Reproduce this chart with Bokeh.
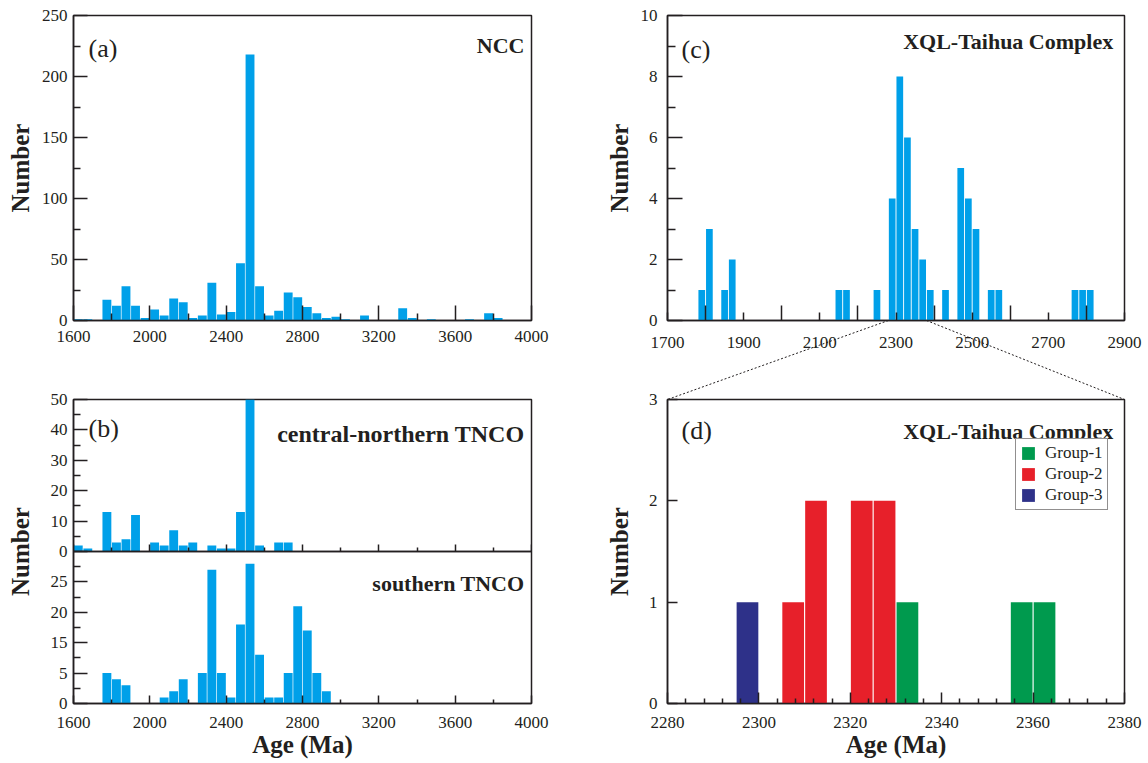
from bokeh.plotting import figure
from bokeh.models import Range1d, LinearAxis, FixedTicker, Label, Legend, LegendItem
from bokeh.layouts import row, column
from bokeh.embed import file_html
from bokeh.resources import INLINE

# ---------------- data ----------------
# (a) NCC, 50 Ma bins (left edge of bin) and counts
NCC_BIN = 50
ncc_age = [1600, 1650, 1750, 1800, 1850, 1900, 1950, 2000, 2050, 2100, 2150, 2200,
           2250, 2300, 2350, 2400, 2450, 2500, 2550, 2600, 2650, 2700, 2750, 2800,
           2850, 2900, 2950, 3000, 3100, 3300, 3350, 3450, 3650, 3750, 3800]
ncc_count = [1, 1, 17, 12, 28, 12, 2, 9, 4, 18, 15, 2,
             4, 31, 5, 7, 47, 218, 28, 4, 8, 23, 19, 11,
             6, 2, 3, 1, 4, 10, 2, 1, 1, 6, 2]

# (b) central-northern TNCO, 50 Ma bins
cn_age = [1600, 1650, 1750, 1800, 1850, 1900, 2000, 2050, 2100, 2150, 2200,
          2300, 2350, 2400, 2450, 2500, 2550, 2650, 2700]
cn_count = [2, 1, 13, 3, 4, 12, 3, 2, 7, 2, 3, 2, 1, 1, 13, 150, 2, 3, 3]
cn_ticks = [0, 10, 20, 30, 40, 50]

# (b) southern TNCO, 50 Ma bins (heights on the printed axis scale)
s_age = [1750, 1800, 1850, 2050, 2100, 2150, 2250, 2300, 2350, 2400, 2450,
         2500, 2550, 2600, 2650, 2700, 2750, 2800, 2850, 2900]
s_count = [5, 4, 3, 1, 2, 4, 5, 22, 5, 1, 13, 23, 8, 1, 1, 5, 16, 12, 5, 2]
s_tick_pos = [0, 5, 10, 15, 20]
s_tick_labels = ["0", "5", "15", "20", "25"]

# (c) XQL-Taihua Complex, 20 Ma bins
XQL_BIN = 20
xql_age = [1780, 1800, 1840, 1860, 2140, 2160, 2240, 2280, 2300, 2320, 2340,
           2360, 2380, 2420, 2460, 2480, 2500, 2540, 2560, 2760, 2780, 2800]
xql_count = [1, 3, 1, 2, 1, 1, 1, 4, 8, 6, 3, 2, 1, 1, 5, 4, 3, 1, 1, 1, 1, 1]

# (d) XQL-Taihua Complex detail, 5 Ma bins
D_BIN = 5
d_age = [2295, 2305, 2310, 2320, 2325, 2330, 2355, 2360]
d_count = [1, 1, 2, 2, 2, 1, 1, 1]
d_group = ["Group-3", "Group-2", "Group-2", "Group-2", "Group-2",
           "Group-1", "Group-1", "Group-1"]
groups = ["Group-1", "Group-2", "Group-3"]
group_colors = ["#009A4E", "#E7202A", "#2E3189"]

# ---------------- styling ----------------
SERIF = "Liberation Serif"
INK = "#231F20"
BLUE = "#00A0E9"


def base_fig(width, height, xr, yr, left, right, top, bottom):
    p = figure(width=width, height=height, x_range=Range1d(*xr), y_range=Range1d(*yr),
               output_backend="svg", toolbar_location=None,
               min_border_left=left, min_border_right=right,
               min_border_top=top, min_border_bottom=bottom)
    p.xgrid.visible = False
    p.ygrid.visible = False
    p.outline_line_color = INK
    p.outline_line_width = 1.5
    return p


def style_axis(ax, ticks, minor, tick_in, minor_in, standoff):
    ax.ticker = FixedTicker(ticks=list(ticks), minor_ticks=list(minor))
    ax.major_tick_in = tick_in
    ax.major_tick_out = 0
    ax.minor_tick_in = minor_in
    ax.minor_tick_out = 0
    ax.major_tick_line_color = INK
    ax.minor_tick_line_color = INK
    ax.major_tick_line_width = 1.5
    ax.minor_tick_line_width = 1.5
    ax.axis_line_color = INK
    ax.axis_line_width = 1.5
    ax.major_label_text_font = SERIF
    ax.major_label_text_font_size = "17px"
    ax.major_label_text_color = INK
    ax.major_label_standoff = standoff
    ax.axis_label_text_font = SERIF
    ax.axis_label_text_font_style = "bold"
    ax.axis_label_text_font_size = "25px"
    ax.axis_label_text_color = INK


def frame_text(p, fw, fh, text, dx, dy, size, bold=False, align="left"):
    # place text at a pixel offset from the frame's top-left (or top-right) corner
    x0, x1 = p.x_range.start, p.x_range.end
    y0, y1 = p.y_range.start, p.y_range.end
    x = x0 + dx * (x1 - x0) / fw if align == "left" else x1 - dx * (x1 - x0) / fw
    y = y1 - dy * (y1 - y0) / fh
    p.add_layout(Label(x=x, y=y, text=text, text_align=align, text_baseline="alphabetic",
                       text_font=SERIF, text_font_size=size,
                       text_font_style="bold" if bold else "normal", text_color=INK))


def bars(p, ages, counts, binw, fill, color, **kw):
    return p.vbar(x=[a + binw / 2 for a in ages], top=counts, bottom=0, width=binw * fill,
                  fill_color=color, line_color=None, **kw)


# ---------------- (a) NCC ----------------
FA_W, FA_H = 458, 305
fa = base_fig(560, 380, (1600, 4000), (0, 250), 73, 29, 15, 60)
bars(fa, ncc_age, ncc_count, NCC_BIN, 0.93, BLUE)
style_axis(fa.xaxis[0], range(1600, 4001, 400), range(1800, 4000, 400), 15, 7, 10)
style_axis(fa.yaxis[0], range(0, 251, 50), range(25, 250, 50), 14, 7, 6)
fa.yaxis[0].axis_label = "Number"
fa.yaxis[0].axis_label_standoff = 5
frame_text(fa, FA_W, FA_H, "(a)", 15, 33, "26px")
frame_text(fa, FA_W, FA_H, "NCC", 7, 29.5, "22px", bold=True, align="right")

# ---------------- (b) TNCO: two stacked panels ----------------
FB_W, FB_H = 458, 304
fb = base_fig(560, 383, (1600, 4000), (0, 50), 73, 29, 19, 60)
fb.extra_y_ranges = {"up": Range1d(-50, 50)}
bars(fb, s_age, s_count, NCC_BIN, 0.93, BLUE)
bars(fb, cn_age, cn_count, NCC_BIN, 0.93, BLUE, y_range_name="up")
style_axis(fb.xaxis[0], range(1600, 4001, 400), range(1800, 4000, 400), 8, 4, 13)
fb.xaxis[0].axis_label = "Age (Ma)"
fb.xaxis[0].axis_label_standoff = 0
# one left axis carries both scales: lower half (southern) and upper half (central-northern)
overrides = {pos: lab for pos, lab in zip(s_tick_pos, s_tick_labels)}
for v in cn_ticks:
    overrides[25 + v // 2] = str(v)
style_axis(fb.yaxis[0], range(0, 51, 5), [x + 2.5 for x in range(0, 50, 5)], 14, 7, 6)
fb.yaxis[0].major_label_overrides = overrides
fb.yaxis[0].axis_label = "Number"
fb.yaxis[0].axis_label_standoff = 14
# divider between the two panels, with ticks pointing up into the upper panel
for marks, length in ((range(1600, 4001, 400), 7), (range(1800, 4000, 400), 4)):
    divider = LinearAxis(fixed_location=25, ticker=FixedTicker(ticks=[], minor_ticks=list(marks)))
    divider.axis_line_color = INK
    divider.axis_line_width = 1.5
    divider.major_tick_in = 0
    divider.major_tick_out = 0
    divider.minor_tick_in = 0
    divider.minor_tick_out = length
    divider.minor_tick_line_color = INK
    divider.minor_tick_line_width = 1.5
    fb.add_layout(divider, "above")
frame_text(fb, FB_W, FB_H, "(b)", 15, 29, "26px")
frame_text(fb, FB_W, FB_H, "central-northern TNCO", 7, 34, "24px", bold=True, align="right")
frame_text(fb, FB_W, FB_H, "southern TNCO", 7, 184.3, "22px", bold=True, align="right")

# ---------------- (c) XQL-Taihua Complex ----------------
FC_W, FC_H = 457, 305
fc = base_fig(588, 360, (1700, 2900), (0, 10), 107, 24, 15, 40)
bars(fc, xql_age, xql_count, XQL_BIN, 0.88, BLUE)
style_axis(fc.xaxis[0], range(1700, 2901, 200), range(1800, 2900, 200), 8, 15, 16)
style_axis(fc.yaxis[0], range(0, 11, 2), range(1, 10, 2), 15, 8, 10)
fc.yaxis[0].axis_label = "Number"
fc.yaxis[0].axis_label_standoff = 5
frame_text(fc, FC_W, FC_H, "(c)", 14, 33.7, "26px")
frame_text(fc, FC_W, FC_H, "XQL-Taihua Complex", 11.3, 25.7, "22px", bold=True, align="right")

# ---------------- (d) detail of (c) ----------------
FD_W, FD_H = 457, 304
fd = base_fig(588, 403, (2280, 2380), (0, 3), 107, 24, 39, 60)
items = []
for g, col in zip(groups, group_colors):
    idx = [i for i, gg in enumerate(d_group) if gg == g]
    r = bars(fd, [d_age[i] for i in idx], [d_count[i] for i in idx], D_BIN, 0.95, col)
    items.append(LegendItem(label=g, renderers=[r]))
style_axis(fd.xaxis[0], range(2280, 2381, 20), [v for v in range(2284, 2380, 4) if v % 20], 11, 5, 13)
fd.xaxis[0].axis_label = "Age (Ma)"
fd.xaxis[0].axis_label_standoff = 0
style_axis(fd.yaxis[0], [0, 1, 2, 3], [], 10, 0, 10)
fd.yaxis[0].axis_label = "Number"
fd.yaxis[0].axis_label_standoff = 13
frame_text(fd, FD_W, FD_H, "(d)", 14, 31, "26px")
frame_text(fd, FD_W, FD_H, "XQL-Taihua Complex", 11.3, 31.7, "22px", bold=True, align="right")
legend = Legend(items=items, location=(348, 193), padding=4, spacing=1, margin=0,
                glyph_width=16, glyph_height=16, label_height=16, label_standoff=9,
                label_text_font=SERIF, label_text_font_size="17px", label_text_color=INK,
                border_line_color=INK, border_line_width=1.5, background_fill_alpha=1)
fd.add_layout(legend)

# ---------------- dotted connectors from (c) to the corners of (d) ----------------
GAP = 79  # px between the bottom of (c) and the top of (d)
y_gap = -GAP * 10 / FC_H
fd.extra_x_ranges = {"cx": Range1d(1700, 2900)}
fd.extra_y_ranges = {"cy": Range1d(y_gap - FD_H * 10 / FC_H, y_gap)}
zoom_lo, zoom_hi = 2280, 2380
link = dict(x0=[zoom_lo, zoom_hi], y0=[0, 0], x1=[1700, 2900], y1=[y_gap, y_gap],
            level="overlay", line_color=INK, line_width=1, line_dash="2 2")
fc.segment(**link)
fd.segment(x_range_name="cx", y_range_name="cy", **link)

layout = row(column(fa, fb), column(fc, fd))
open("out.html", "w").write(file_html(layout, INLINE))
